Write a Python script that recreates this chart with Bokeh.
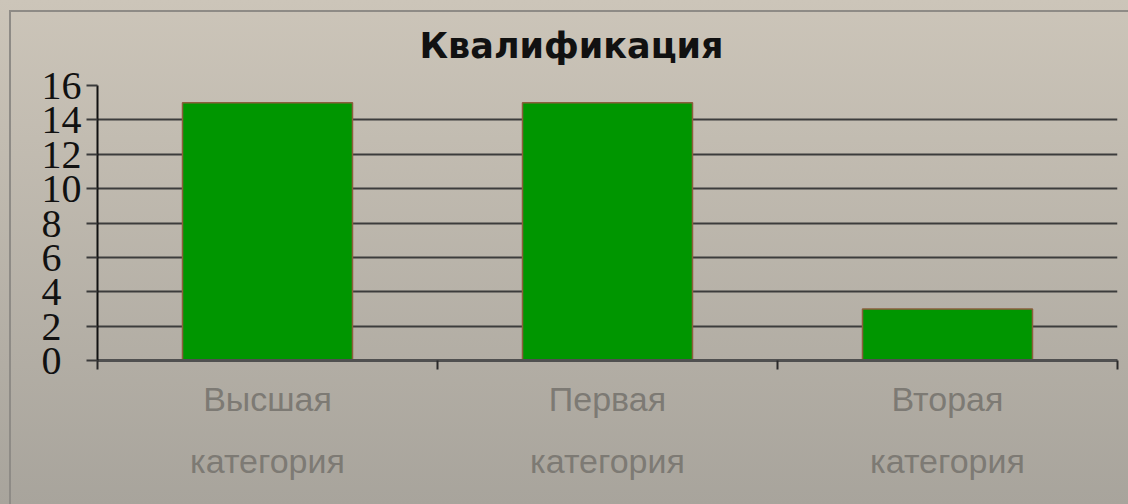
from bokeh.plotting import figure
from bokeh.models import FixedTicker, Range1d, ColumnDataSource
from bokeh.embed import file_html
from bokeh.resources import INLINE

# Data
categories = ["Высшая\nкатегория", "Первая\nкатегория", "Вторая\nкатегория"]
counts = [15, 15, 3]
y_ticks = [0, 2, 4, 6, 8, 10, 12, 14, 16]

positions = [i + 0.5 for i in range(len(categories))]
source = ColumnDataSource(dict(x=positions, top=counts))

p = figure(width=1128, height=504, output_backend="svg", toolbar_location=None,
           x_range=Range1d(0, len(categories)), y_range=Range1d(0, 16),
           min_border_left=97, min_border_right=11, min_border_top=85, min_border_bottom=144)

p.styles = {
    "background": ("linear-gradient(#8e8b86,#8e8b86) 9px 10px/2px 100% no-repeat, "
                   "linear-gradient(#8e8b86,#8e8b86) 9px 10px/100% 2px no-repeat, "
                   "linear-gradient(#ccc5b9, #a8a49c)"),
}
p.border_fill_color = None
p.background_fill_color = None
p.outline_line_color = None

p.vbar(x="x", top="top", width=0.5, source=source,
       fill_color="#009600", line_color="#8b5e3c", line_width=1.5)

# Title
p.title.text = "Квалификация"
p.title.text_font = "DejaVu Sans"
p.title.text_font_size = "35px"
p.title.text_font_style = "bold"
p.title.text_color = "#111111"
p.title.text_line_height = 0.6
p.title.align = "left"
p.title.offset = 322
p.title.standoff = 40

# Y axis
yax = p.yaxis[0]
yax.ticker = FixedTicker(ticks=y_ticks, minor_ticks=[])
yax.major_label_overrides = {t: (str(t) if t >= 10 else str(t) + "\u2007") for t in y_ticks}
yax.major_label_text_font = "Liberation Serif"
yax.major_label_text_font_size = "40px"
yax.major_label_text_color = "#111111"
yax.major_label_standoff = 5
yax.major_tick_out = 11
yax.major_tick_in = 0
yax.major_tick_line_color = "#3a3a3a"
yax.major_tick_line_width = 2
yax.axis_line_color = "#111111"
yax.axis_line_width = 2

# X axis
xax = p.xaxis[0]
xax.ticker = FixedTicker(ticks=positions, minor_ticks=list(range(len(categories) + 1)))
xax.major_label_overrides = {pos: lab for pos, lab in zip(positions, categories)}
xax.major_label_text_font = "Liberation Sans"
xax.major_label_text_font_size = "34px"
xax.major_label_text_color = "#7d7a74"
xax.major_label_text_line_height = 1.65
xax.major_label_standoff = 10
xax.major_tick_line_color = None
xax.minor_tick_out = 9
xax.minor_tick_in = 0
xax.minor_tick_line_color = "#2a2a2a"
xax.minor_tick_line_width = 2
xax.axis_line_color = "#505050"
xax.axis_line_width = 3

# Grid
p.xgrid.grid_line_color = None
p.ygrid.ticker = FixedTicker(ticks=y_ticks)
p.ygrid.grid_line_color = "#3c3c3c"
p.ygrid.grid_line_width = 2

open("out.html", "w").write(file_html(p, INLINE))
